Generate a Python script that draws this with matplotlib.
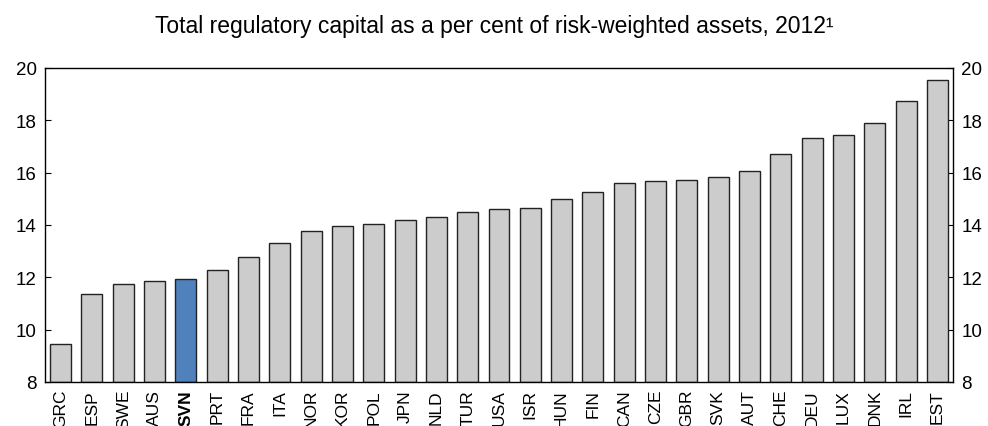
import numpy as np
import matplotlib.pyplot as plt

plt.rcParams['font.family'] = ['Liberation Sans', 'DejaVu Sans']

countries = ['GRC', 'ESP', 'SWE', 'AUS', 'SVN', 'PRT', 'FRA', 'ITA', 'NOR', 'KOR',
             'POL', 'JPN', 'NLD', 'TUR', 'USA', 'ISR', 'HUN', 'FIN', 'CAN', 'CZE',
             'GBR', 'SVK', 'AUT', 'CHE', 'DEU', 'LUX', 'DNK', 'IRL', 'EST']
capital = [9.46, 11.36, 11.73, 11.85, 11.94, 12.28, 12.78, 13.32, 13.78, 13.95,
           14.05, 14.18, 14.32, 14.50, 14.60, 14.66, 15.01, 15.25, 15.62, 15.67,
           15.71, 15.82, 16.05, 16.70, 17.31, 17.45, 17.89, 18.75, 19.55]
highlight = 'SVN'

colors = ['#4F81BD' if c == highlight else '#CCCCCC' for c in countries]

fig = plt.figure(figsize=(9.88, 4.27), dpi=100)
ax = fig.add_axes([45 / 988, 1 - 383 / 427, 908 / 988, 314 / 427])

x = np.arange(len(countries))
ax.bar(x, np.array(capital) - 8, bottom=8, width=0.67, color=colors,
       edgecolor='#222222', linewidth=1.0, zorder=2)

ax.set_xlim(-0.5, len(countries) - 0.5)
ax.set_ylim(8, 20)
ax.set_yticks(np.arange(8, 21, 2))
ax.tick_params(axis='y', direction='in', length=4, labelsize=13.5,
               left=True, right=True, labelleft=True, labelright=True, pad=6)
ax.set_xticks(x)
ax.set_xticklabels(countries, rotation=90, fontsize=12.5)
for lbl in ax.get_xticklabels():
    if lbl.get_text() == highlight:
        lbl.set_fontweight('bold')
ax.tick_params(axis='x', length=0, pad=5)

for s in ax.spines.values():
    s.set_linewidth(1.0)
    s.set_color('#000000')

fig.text(494 / 988, 1 - 33 / 427,
         'Total regulatory capital as a per cent of risk-weighted assets, 2012\u00b9',
         ha='center', va='baseline', fontsize=16.5)

fig.savefig('out.png', dpi=100)
